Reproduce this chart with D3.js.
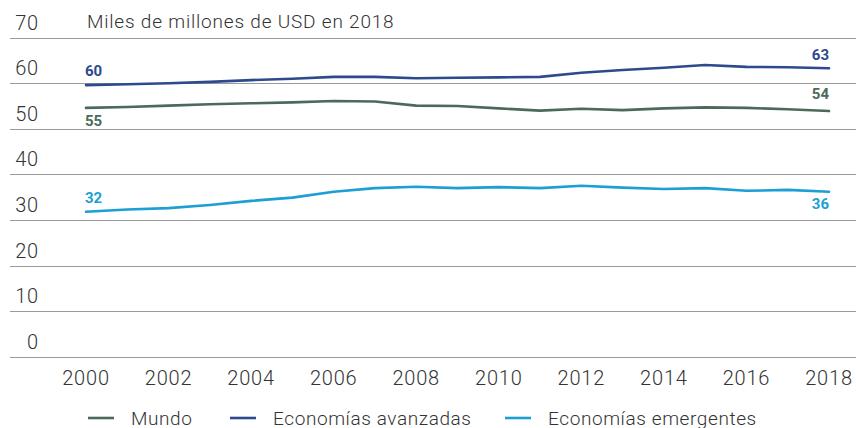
<!DOCTYPE html>
<html>
<head>
<meta charset="utf-8">
<script src="https://cdn.jsdelivr.net/npm/d3@7"></script>
<style>
  html, body { margin: 0; padding: 0; background: #fff; }
  svg { display: block; font-family: "Roboto", "Liberation Sans", sans-serif; }
  .tick-lbl { fill: #333; font-size: 20px; font-weight: 300; letter-spacing: 0.8px; }
  .txt-lbl { fill: #333; font-size: 19px; font-weight: 300; letter-spacing: 0.6px; }
  .val-lbl { font-size: 15px; font-weight: 700; }
</style>
</head>
<body>
<div id="chart"></div>
<script>
  // ---- data ----
  const years = d3.range(2000, 2019);
  const mundo = [54.6, 54.8, 55.1, 55.4, 55.6, 55.8, 56.1, 56.0, 55.1, 55.0, 54.5, 54.0, 54.4, 54.1, 54.5, 54.7, 54.6, 54.3, 53.9];
  const avanzadas = [59.6, 59.8, 60.0, 60.3, 60.7, 61.0, 61.4, 61.4, 61.1, 61.2, 61.3, 61.4, 62.3, 62.9, 63.4, 64.0, 63.6, 63.5, 63.3];
  const emergentes = [31.8, 32.3, 32.6, 33.3, 34.2, 34.9, 36.2, 37.0, 37.3, 37.0, 37.2, 37.0, 37.5, 37.1, 36.8, 37.0, 36.4, 36.6, 36.2];
  const yTicks = [0, 10, 20, 30, 40, 50, 60, 70];
  const xTicks = [2000, 2002, 2004, 2006, 2008, 2010, 2012, 2014, 2016, 2018];
  const seriesNames = ["Mundo", "Economías avanzadas", "Economías emergentes"];
  const seriesColors = ["#4b6a59", "#2d4a8e", "#1c9fd4"];
  const title = "Miles de millones de USD en 2018";

  const series = [mundo, avanzadas, emergentes].map((vals, i) => ({
    name: seriesNames[i], color: seriesColors[i], values: vals
  }));

  /* ---- layout ---- */
  const W = 856, H = 428;
  const svg = d3.select("#chart").append("svg").attr("width", W).attr("height", H);

  const x = d3.scaleLinear().domain([2000, 2018]).range([86, 829]);
  const y = d3.scaleLinear().domain([0, 70]).range([356.7, 37.7]);

  // gridlines
  svg.append("g").selectAll("line").data(yTicks).join("line")
    .attr("x1", 10).attr("x2", W)
    .attr("y1", d => Math.round(y(d)) + 0.5).attr("y2", d => Math.round(y(d)) + 0.5)
    .attr("stroke", "#9a9a9a").attr("stroke-width", 1);

  // y labels (sit above gridline)
  svg.append("g").selectAll("text").data(yTicks).join("text")
    .attr("class", "tick-lbl")
    .attr("x", 39).attr("y", d => y(d) - 8)
    .attr("text-anchor", "end")
    .text(d => d);

  // x labels
  svg.append("g").selectAll("text").data(xTicks).join("text")
    .attr("class", "tick-lbl")
    .attr("x", d => x(d)).attr("y", 385)
    .attr("text-anchor", "middle")
    .text(d => d);

  // title
  svg.append("text").attr("class", "txt-lbl")
    .attr("x", 87).attr("y", 28)
    .style("letter-spacing", "0.8px")
    .text(title);

  // lines
  const line = d3.line().x((d, i) => x(years[i])).y(d => y(d));
  svg.append("g").selectAll("path").data(series).join("path")
    .attr("d", d => line(d.values))
    .attr("fill", "none")
    .attr("stroke", d => d.color)
    .attr("stroke-width", 2.6)
    .attr("stroke-linejoin", "round")
    .attr("stroke-linecap", "round");

  // start / end value labels
  const lblOffset = [ [+18, -12], [-9, -8], [-9, +17] ]; // [start dy, end dy] per series
  series.forEach((s, i) => {
    const first = s.values[0], last = s.values[s.values.length - 1];
    svg.append("text").attr("class", "val-lbl")
      .attr("x", x(2000) - 1).attr("y", y(first) + lblOffset[i][0])
      .attr("fill", s.color).text(Math.round(first));
    svg.append("text").attr("class", "val-lbl")
      .attr("x", x(2018)).attr("y", y(last) + lblOffset[i][1])
      .attr("text-anchor", "end")
      .attr("fill", s.color).text(Math.round(last));
  });

  // legend
  const legX = [88, 230, 505];
  const lg = svg.append("g").selectAll("g").data(series).join("g")
    .attr("transform", (d, i) => `translate(${legX[i]},418)`);
  lg.append("line").attr("x1", 0).attr("x2", 26).attr("y1", 0).attr("y2", 0)
    .attr("stroke", d => d.color).attr("stroke-width", 2.6);
  lg.append("text").attr("class", "txt-lbl")
    .attr("x", 43).attr("y", 6.5)
    .text(d => d.name);
</script>
</body>
</html>
